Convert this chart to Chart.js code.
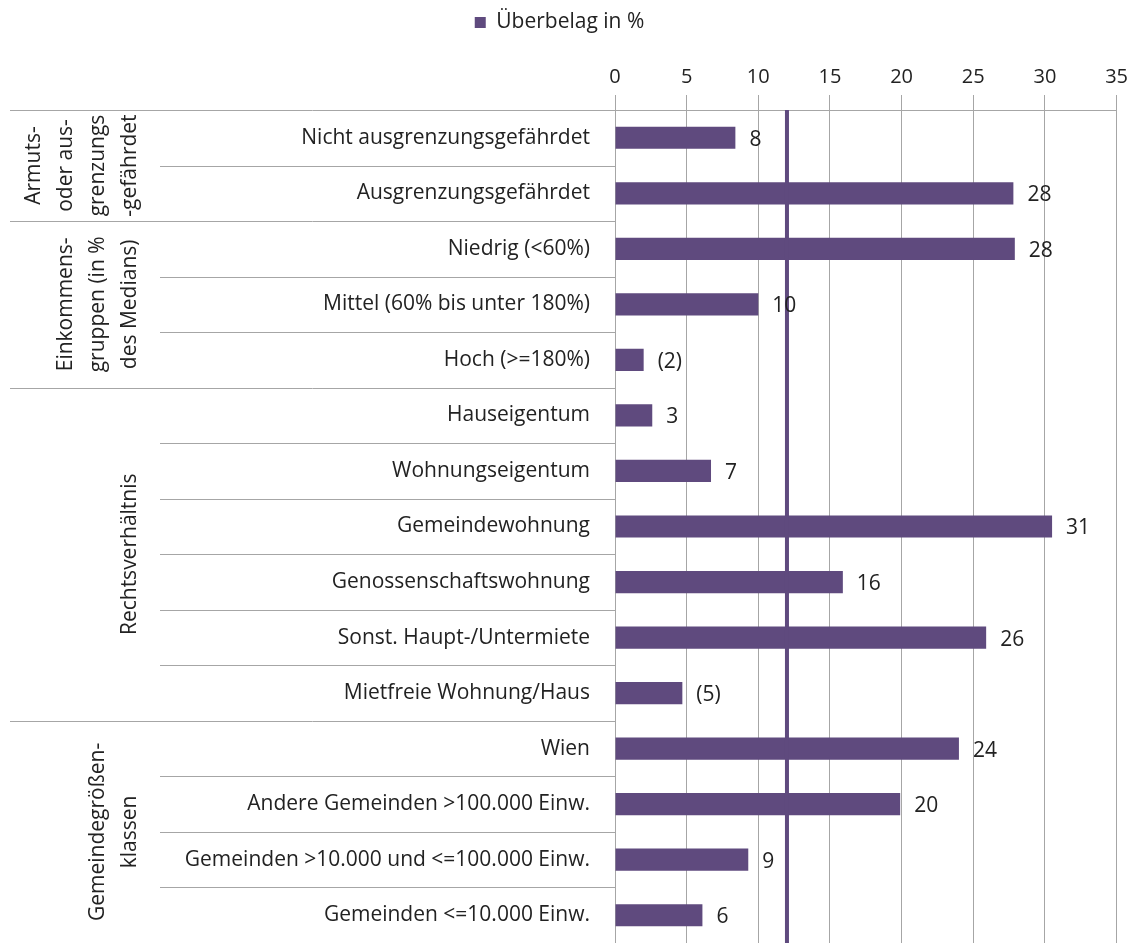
<!DOCTYPE html>
<html>
<head>
<meta charset="utf-8">
<script src="https://cdn.jsdelivr.net/npm/chart.js@4.4.1/dist/chart.umd.min.js"></script>
<style>
  html, body { margin: 0; padding: 0; background: #fff; overflow: hidden; }
  canvas { display: block; }
</style>
</head>
<body>
<canvas id="chart" width="1134" height="943"></canvas>
<script>
const categories = [
  'Nicht ausgrenzungsgefährdet', 'Ausgrenzungsgefährdet',
  'Niedrig (<60%)', 'Mittel (60% bis unter 180%)', 'Hoch (>=180%)',
  'Hauseigentum', 'Wohnungseigentum', 'Gemeindewohnung', 'Genossenschaftswohnung',
  'Sonst. Haupt-/Untermiete', 'Mietfreie Wohnung/Haus',
  'Wien', 'Andere Gemeinden >100.000 Einw.', 'Gemeinden >10.000 und <=100.000 Einw.', 'Gemeinden <=10.000 Einw.'
];
const values = [8.4, 27.8, 27.9, 10.0, 2.0, 2.6, 6.7, 30.5, 15.9, 25.9, 4.7, 24.0, 19.9, 9.3, 6.1];
const valueLabels = ['8', '28', '28', '10', '(2)', '3', '7', '31', '16', '26', '(5)', '24', '20', '9', '6'];
const groups = [
  { lines: ['Armuts-', 'oder aus-', 'grenzungs', '-gefährdet'], from: 0, to: 1 },
  { lines: ['Einkommens-', 'gruppen (in %', 'des Medians)'], from: 2, to: 4 },
  { lines: ['Rechtsverhältnis'], from: 5, to: 10 },
  { lines: ['Gemeindegrößen-', 'klassen'], from: 11, to: 14 }
];
const averageValue = 12;
const seriesName = 'Überbelag in %';

const purple = 'rgb(95, 74, 126)';
const gridGrey = '#a6a6a6';
const fontFamily = '"Open Sans", sans-serif';

const decorations = {
  id: 'decorations',
  afterDatasetsDraw(chart) {
    const ctx = chart.ctx;
    const area = chart.chartArea;
    const x = chart.scales.x;
    const y = chart.scales.y;
    ctx.save();

    // average line
    const ax = x.getPixelForValue(averageValue);
    ctx.strokeStyle = purple;
    ctx.lineWidth = 4;
    ctx.beginPath();
    ctx.moveTo(ax, area.top);
    ctx.lineTo(ax, area.bottom);
    ctx.stroke();

    // value labels
    ctx.fillStyle = '#222';
    ctx.font = '21px ' + fontFamily;
    ctx.textAlign = 'left';
    ctx.textBaseline = 'middle';
    values.forEach((v, i) => {
      ctx.fillText(valueLabels[i], x.getPixelForValue(v) + 14, y.getPixelForValue(i) + 2);
    });

    // separators in the label area
    ctx.strokeStyle = gridGrey;
    ctx.lineWidth = 1;
    const groupEnds = groups.map(g => g.to);
    ctx.beginPath();
    ctx.moveTo(10, area.top + 0.5);
    ctx.lineTo(area.left, area.top + 0.5);
    for (let i = 0; i < categories.length - 1; i++) {
      const sy = Math.round((y.getPixelForValue(i) + y.getPixelForValue(i + 1)) / 2) + 0.5;
      ctx.moveTo(groupEnds.includes(i) ? 10 : 160, sy);
      ctx.lineTo(area.left, sy);
    }
    ctx.stroke();

    // group titles, rotated
    ctx.fillStyle = '#222';
    ctx.font = '21px ' + fontFamily;
    ctx.textAlign = 'center';
    ctx.textBaseline = 'middle';
    groups.forEach(g => {
      const cy = (y.getPixelForValue(g.from) + y.getPixelForValue(g.to)) / 2;
      const n = g.lines.length;
      g.lines.forEach((line, k) => {
        const lx = 130 - (n - 1 - k) * 32;
        ctx.save();
        ctx.translate(lx, cy);
        ctx.rotate(-Math.PI / 2);
        ctx.fillText(line, 0, 0);
        ctx.restore();
      });
    });
    ctx.restore();
  }
};

new Chart(document.getElementById('chart'), {
  type: 'bar',
  data: {
    labels: categories,
    datasets: [{
      label: seriesName,
      data: values,
      backgroundColor: purple,
      categoryPercentage: 1,
      barPercentage: 0.4
    }]
  },
  options: {
    indexAxis: 'y',
    responsive: false,
    animation: false,
    layout: { padding: { left: 0, right: 15, top: 2, bottom: 0 } },
    plugins: {
      tooltip: { enabled: false },
      legend: {
        position: 'top',
        labels: {
          boxWidth: 11,
          boxHeight: 11,
          color: '#222',
          font: { family: fontFamily, size: 21 }
        }
      }
    },
    scales: {
      x: {
        position: 'top',
        min: 0,
        max: 35,
        ticks: { stepSize: 5, padding: 6, color: '#222', font: { family: fontFamily, size: 20 } },
        grid: { color: gridGrey, tickLength: 15 },
        border: { color: gridGrey },
        afterFit(scale) { scale.height += 16; }
      },
      y: {
        grid: { display: false },
        border: { display: false },
        ticks: { padding: 17, color: '#222', font: { family: fontFamily, size: 21 } },
        afterFit(scale) {
          scale.width = 615;
          scale.paddingTop = 0;
          scale.paddingBottom = 0;
        }
      }
    }
  },
  plugins: [decorations]
});
</script>
</body>
</html>
